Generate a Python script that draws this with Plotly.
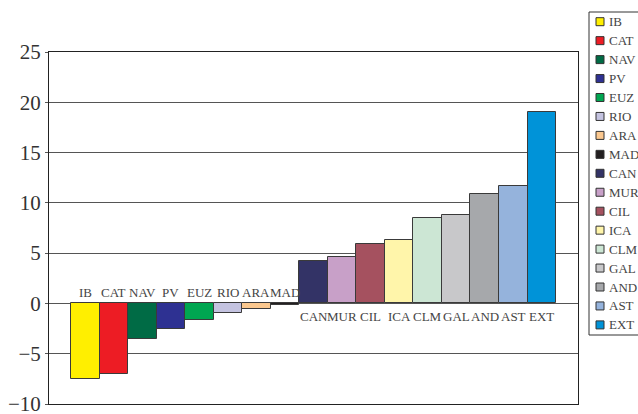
import plotly.graph_objects as go

regions = ["IB", "CAT", "NAV", "PV", "EUZ", "RIO", "ARA", "MAD", "CAN",
           "MUR", "CIL", "ICA", "CLM", "GAL", "AND", "AST", "EXT"]
values = [-7.5, -7.0, -3.5, -2.5, -1.6, -1.0, -0.6, -0.15, 4.2,
          4.65, 5.9, 6.3, 8.45, 8.8, 10.9, 11.7, 19.0]
colors = ["#FFEF00", "#ED1C24", "#006B45", "#2E3192", "#00A651", "#C4C3E0",
          "#FBC88F", "#231F20", "#333366", "#C8A0C8", "#A5515F", "#FFF5AA",
          "#CCE6D4", "#C8C8CA", "#A6A8AB", "#95B3DC", "#0093D8"]
yticks = [-10, -5, 0, 5, 10, 15, 20, 25]
ytick_text = ["\u221210", "\u22125", "0", "5", "10", "15", "20", "25"]

FONT = "Liberation Serif"
W, H = 638, 414
ML, MR, MT, MB = 49, 60, 52, 10
PW, PH = W - ML - MR, H - MT - MB


def px_x(px):
    return (px - ML) / PW


def px_y(py):
    return (H - MB - py) / PH


fig = go.Figure()
for name, val, col in zip(regions, values, colors):
    fig.add_trace(go.Bar(
        x=[name], y=[val], name=name, width=1,
        marker=dict(color=col, line=dict(color="#3a3a3a", width=1)),
    ))

for name, val in zip(regions, values):
    fig.add_annotation(
        x=name, y=0, text=name, showarrow=False,
        yshift=11 if val < 0 else -13,
        font=dict(family=FONT, size=13, color="#444444"),
    )

# Legend drawn by hand (box clipped by the page edge, as in the original)
shapes = [dict(type="rect", xref="paper", yref="paper",
               x0=px_x(589), x1=px_x(660), y0=px_y(335), y1=px_y(12),
               line=dict(color="#333333", width=1), fillcolor="white",
               layer="above")]
step = 18.95
for i, (name, col) in enumerate(zip(regions, colors)):
    cy = 21.7 + i * step
    shapes.append(dict(type="rect", xref="paper", yref="paper",
                       x0=px_x(596), x1=px_x(604),
                       y0=px_y(cy + 4), y1=px_y(cy - 4),
                       line=dict(color="#333333", width=1), fillcolor=col,
                       layer="above"))
    fig.add_annotation(xref="paper", yref="paper", x=px_x(607), y=px_y(cy),
                       xanchor="left", yanchor="middle", text=name,
                       showarrow=False,
                       font=dict(family=FONT, size=13, color="#444444"))

fig.update_layout(
    width=W, height=H,
    margin=dict(l=ML, r=MR, t=MT, b=MB, autoexpand=False),
    paper_bgcolor="white", plot_bgcolor="white",
    barmode="overlay", bargap=0,
    showlegend=False,
    shapes=shapes,
    xaxis=dict(
        type="category", range=[-1.27, 17.27],
        showticklabels=False, showgrid=False, zeroline=False,
        showline=True, linecolor="#222222", linewidth=1, mirror=True,
        ticks="",
    ),
    yaxis=dict(
        range=[-10, 25], tickvals=yticks, ticktext=ytick_text,
        showgrid=True, gridcolor="#555555", gridwidth=1,
        zeroline=True, zerolinecolor="#555555", zerolinewidth=1,
        showline=True, linecolor="#222222", linewidth=1, mirror=True,
        ticks="outside", ticklen=3, tickcolor="#555555",
        ticklabeloverflow="allow",
        tickfont=dict(family=FONT, size=21, color="#333333"),
    ),
)

fig.write_html("out.html")
